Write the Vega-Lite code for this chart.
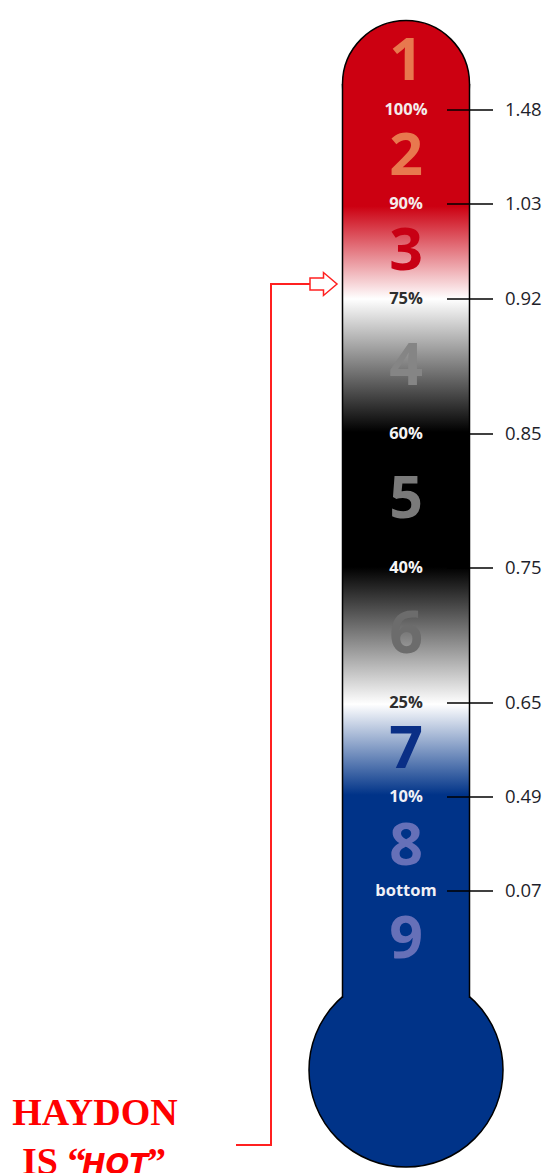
{
  "$schema": "https://vega.github.io/schema/vega-lite/v6.json",
  "width": 548,
  "height": 1173,
  "padding": 0,
  "autosize": {"type": "none"},
  "background": "white",
  "config": {"view": {"stroke": null}},
  "resolve": {"scale": {"color": "independent"}},
  "datasets": {
    "cap": [{"gx": 406, "gy": 84}],
    "bulb": [{"gx": 406, "gy": 1070}],
    "tube": [{"gx": 342.5, "gx2": 469.5, "gy": 84, "gy2": 1070}],
    "walls": [{"gx": 342.5, "gy": 84, "gy2": 998}, {"gx": 469.5, "gy": 84, "gy2": 998}],
    "ticks": [
      {"pct": "100%", "value": 1.48, "gy": 110},
      {"pct": "90%", "value": 1.03, "gy": 204},
      {"pct": "75%", "value": 0.92, "gy": 299},
      {"pct": "60%", "value": 0.85, "gy": 434},
      {"pct": "40%", "value": 0.75, "gy": 568},
      {"pct": "25%", "value": 0.65, "gy": 703},
      {"pct": "10%", "value": 0.49, "gy": 797},
      {"pct": "bottom", "value": 0.07, "gy": 891}
    ],
    "zones": [
      {"zone": "1", "gy": 80},
      {"zone": "2", "gy": 175},
      {"zone": "3", "gy": 270},
      {"zone": "4", "gy": 385},
      {"zone": "5", "gy": 518},
      {"zone": "6", "gy": 653},
      {"zone": "7", "gy": 768},
      {"zone": "8", "gy": 865},
      {"zone": "9", "gy": 958}
    ],
    "leader": [
      {"i": 0, "gx": 236, "gy": 1145},
      {"i": 1, "gx": 271, "gy": 1145},
      {"i": 2, "gx": 271, "gy": 284},
      {"i": 3, "gx": 311, "gy": 284}
    ],
    "arrow": [{"gx": 323.5, "gy": 284}],
    "caption1": [{"t": "HAYDON", "gx": 95, "gy": 1125}],
    "caption2": [{"t": "IS \u201c", "gx": 22, "gy": 1174}, {"t": "\u201d", "gx": 147, "gy": 1174}],
    "caption3": [{"t": "HOT", "gx": 82, "gy": 1174}]
  },
  "layer": [
    {
      "data": {"name": "cap"},
      "mark": {"type": "point", "shape": "circle", "filled": true, "fill": "#CC0011", "stroke": "#000000", "strokeWidth": 1.5, "size": 16129, "opacity": 1},
      "encoding": {
        "x": {"field": "gx", "type": "quantitative", "scale": {"domain": [0, 548], "nice": false, "zero": false}, "axis": null},
        "y": {"field": "gy", "type": "quantitative", "scale": {"domain": [0, 1173], "nice": false, "zero": false, "reverse": true}, "axis": null}
      }
    },
    {
      "data": {"name": "bulb"},
      "mark": {"type": "point", "shape": "circle", "filled": true, "fill": "#003388", "stroke": "#000000", "strokeWidth": 1.5, "size": 37636, "opacity": 1},
      "encoding": {
        "x": {"field": "gx", "type": "quantitative", "scale": {"domain": [0, 548], "nice": false, "zero": false}, "axis": null},
        "y": {"field": "gy", "type": "quantitative", "scale": {"domain": [0, 1173], "nice": false, "zero": false, "reverse": true}, "axis": null}
      }
    },
    {
      "data": {"name": "tube"},
      "mark": {
        "type": "rect",
        "stroke": null,
        "fill": {
          "gradient": "linear", "x1": 0, "y1": 0, "x2": 0, "y2": 1,
          "stops": [
            {"offset": 0, "color": "#CC0011"},
            {"offset": 0.124, "color": "#CC0011"},
            {"offset": 0.218, "color": "#FFFFFF"},
            {"offset": 0.353, "color": "#000000"},
            {"offset": 0.49, "color": "#000000"},
            {"offset": 0.629, "color": "#FFFFFF"},
            {"offset": 0.721, "color": "#003388"},
            {"offset": 1, "color": "#003388"}
          ]
        }
      },
      "encoding": {
        "x": {"field": "gx", "type": "quantitative", "scale": {"domain": [0, 548], "nice": false, "zero": false}, "axis": null},
        "x2": {"field": "gx2"},
        "y": {"field": "gy", "type": "quantitative", "scale": {"domain": [0, 1173], "nice": false, "zero": false, "reverse": true}, "axis": null},
        "y2": {"field": "gy2"}
      }
    },
    {
      "data": {"name": "walls"},
      "mark": {"type": "rule", "color": "#000000", "strokeWidth": 1.5},
      "encoding": {
        "x": {"field": "gx", "type": "quantitative", "scale": {"domain": [0, 548], "nice": false, "zero": false}, "axis": null},
        "y": {"field": "gy", "type": "quantitative", "scale": {"domain": [0, 1173], "nice": false, "zero": false, "reverse": true}, "axis": null},
        "y2": {"field": "gy2"}
      }
    },
    {
      "data": {"name": "ticks"},
      "mark": {"type": "rule", "color": "#000000", "strokeWidth": 1.5},
      "encoding": {
        "x": {"datum": 447, "type": "quantitative", "scale": {"domain": [0, 548], "nice": false, "zero": false}, "axis": null},
        "x2": {"datum": 493},
        "y": {"field": "gy", "type": "quantitative", "scale": {"domain": [0, 1173], "nice": false, "zero": false, "reverse": true}, "axis": null}
      }
    },
    {
      "data": {"name": "zones"},
      "mark": {"type": "text", "font": "Open Sans", "fontWeight": "bold", "fontSize": 59, "align": "center", "baseline": "alphabetic"},
      "encoding": {
        "x": {"datum": 406, "type": "quantitative", "scale": {"domain": [0, 548], "nice": false, "zero": false}, "axis": null},
        "y": {"field": "gy", "type": "quantitative", "scale": {"domain": [0, 1173], "nice": false, "zero": false, "reverse": true}, "axis": null},
        "text": {"field": "zone"},
        "color": {"field": "zone", "type": "nominal", "legend": null,
          "scale": {"domain": ["1", "2", "3", "4", "5", "6", "7", "8", "9"],
                    "range": ["#E8784E", "#E8784E", "#C80014", "#858585", "#7A7A7A", "#6C6C6C", "#0A2F86", "#6670B8", "#6670B8"]}}
      }
    },
    {
      "data": {"name": "ticks"},
      "mark": {"type": "text", "font": "Open Sans", "fontWeight": "bold", "fontSize": 16.5, "align": "center", "baseline": "middle"},
      "encoding": {
        "x": {"datum": 406, "type": "quantitative", "scale": {"domain": [0, 548], "nice": false, "zero": false}, "axis": null},
        "y": {"field": "gy", "type": "quantitative", "scale": {"domain": [0, 1173], "nice": false, "zero": false, "reverse": true}, "axis": null},
        "text": {"field": "pct"},
        "color": {"field": "pct", "type": "nominal", "legend": null,
          "scale": {"domain": ["100%", "90%", "75%", "60%", "40%", "25%", "10%", "bottom"],
                    "range": ["#F4ECEC", "#F4ECEC", "#2E2E2E", "#F4F4F4", "#F4F4F4", "#2E2E2E", "#F0F0F6", "#F0F0F6"]}}
      }
    },
    {
      "data": {"name": "ticks"},
      "mark": {"type": "text", "font": "Open Sans", "fontSize": 18.5, "align": "left", "baseline": "middle", "color": "#1E1E2A"},
      "encoding": {
        "x": {"datum": 505, "type": "quantitative", "scale": {"domain": [0, 548], "nice": false, "zero": false}, "axis": null},
        "y": {"field": "gy", "type": "quantitative", "scale": {"domain": [0, 1173], "nice": false, "zero": false, "reverse": true}, "axis": null},
        "text": {"field": "value", "type": "quantitative", "format": ".2f"}
      }
    },
    {
      "data": {"name": "leader"},
      "mark": {"type": "line", "color": "#FF2020", "strokeWidth": 2, "interpolate": "linear"},
      "encoding": {
        "x": {"field": "gx", "type": "quantitative", "scale": {"domain": [0, 548], "nice": false, "zero": false}, "axis": null},
        "y": {"field": "gy", "type": "quantitative", "scale": {"domain": [0, 1173], "nice": false, "zero": false, "reverse": true}, "axis": null},
        "order": {"field": "i", "type": "quantitative"}
      }
    },
    {
      "data": {"name": "arrow"},
      "mark": {"type": "point", "shape": "M-1,-0.44L0,-0.44L0,-0.85L1,0L0,0.85L0,0.44L-1,0.44Z", "filled": true, "fill": "#FFFFFF", "stroke": "#FF2020", "strokeWidth": 1.5, "size": 729, "opacity": 1},
      "encoding": {
        "x": {"field": "gx", "type": "quantitative", "scale": {"domain": [0, 548], "nice": false, "zero": false}, "axis": null},
        "y": {"field": "gy", "type": "quantitative", "scale": {"domain": [0, 1173], "nice": false, "zero": false, "reverse": true}, "axis": null}
      }
    },
    {
      "data": {"name": "caption1"},
      "mark": {"type": "text", "font": "Liberation Serif", "fontWeight": "bold", "fontSize": 38, "align": "center", "baseline": "alphabetic", "color": "#FF0000"},
      "encoding": {
        "x": {"field": "gx", "type": "quantitative", "scale": {"domain": [0, 548], "nice": false, "zero": false}, "axis": null},
        "y": {"field": "gy", "type": "quantitative", "scale": {"domain": [0, 1173], "nice": false, "zero": false, "reverse": true}, "axis": null},
        "text": {"field": "t"}
      }
    },
    {
      "data": {"name": "caption2"},
      "mark": {"type": "text", "font": "Liberation Serif", "fontWeight": "bold", "fontSize": 38, "align": "left", "baseline": "alphabetic", "color": "#FF0000"},
      "encoding": {
        "x": {"field": "gx", "type": "quantitative", "scale": {"domain": [0, 548], "nice": false, "zero": false}, "axis": null},
        "y": {"field": "gy", "type": "quantitative", "scale": {"domain": [0, 1173], "nice": false, "zero": false, "reverse": true}, "axis": null},
        "text": {"field": "t"}
      }
    },
    {
      "data": {"name": "caption3"},
      "mark": {"type": "text", "font": "DejaVu Sans", "fontWeight": "bold", "fontStyle": "italic", "fontSize": 28, "align": "left", "baseline": "alphabetic", "color": "#FF0000"},
      "encoding": {
        "x": {"field": "gx", "type": "quantitative", "scale": {"domain": [0, 548], "nice": false, "zero": false}, "axis": null},
        "y": {"field": "gy", "type": "quantitative", "scale": {"domain": [0, 1173], "nice": false, "zero": false, "reverse": true}, "axis": null},
        "text": {"field": "t"}
      }
    }
  ]
}
